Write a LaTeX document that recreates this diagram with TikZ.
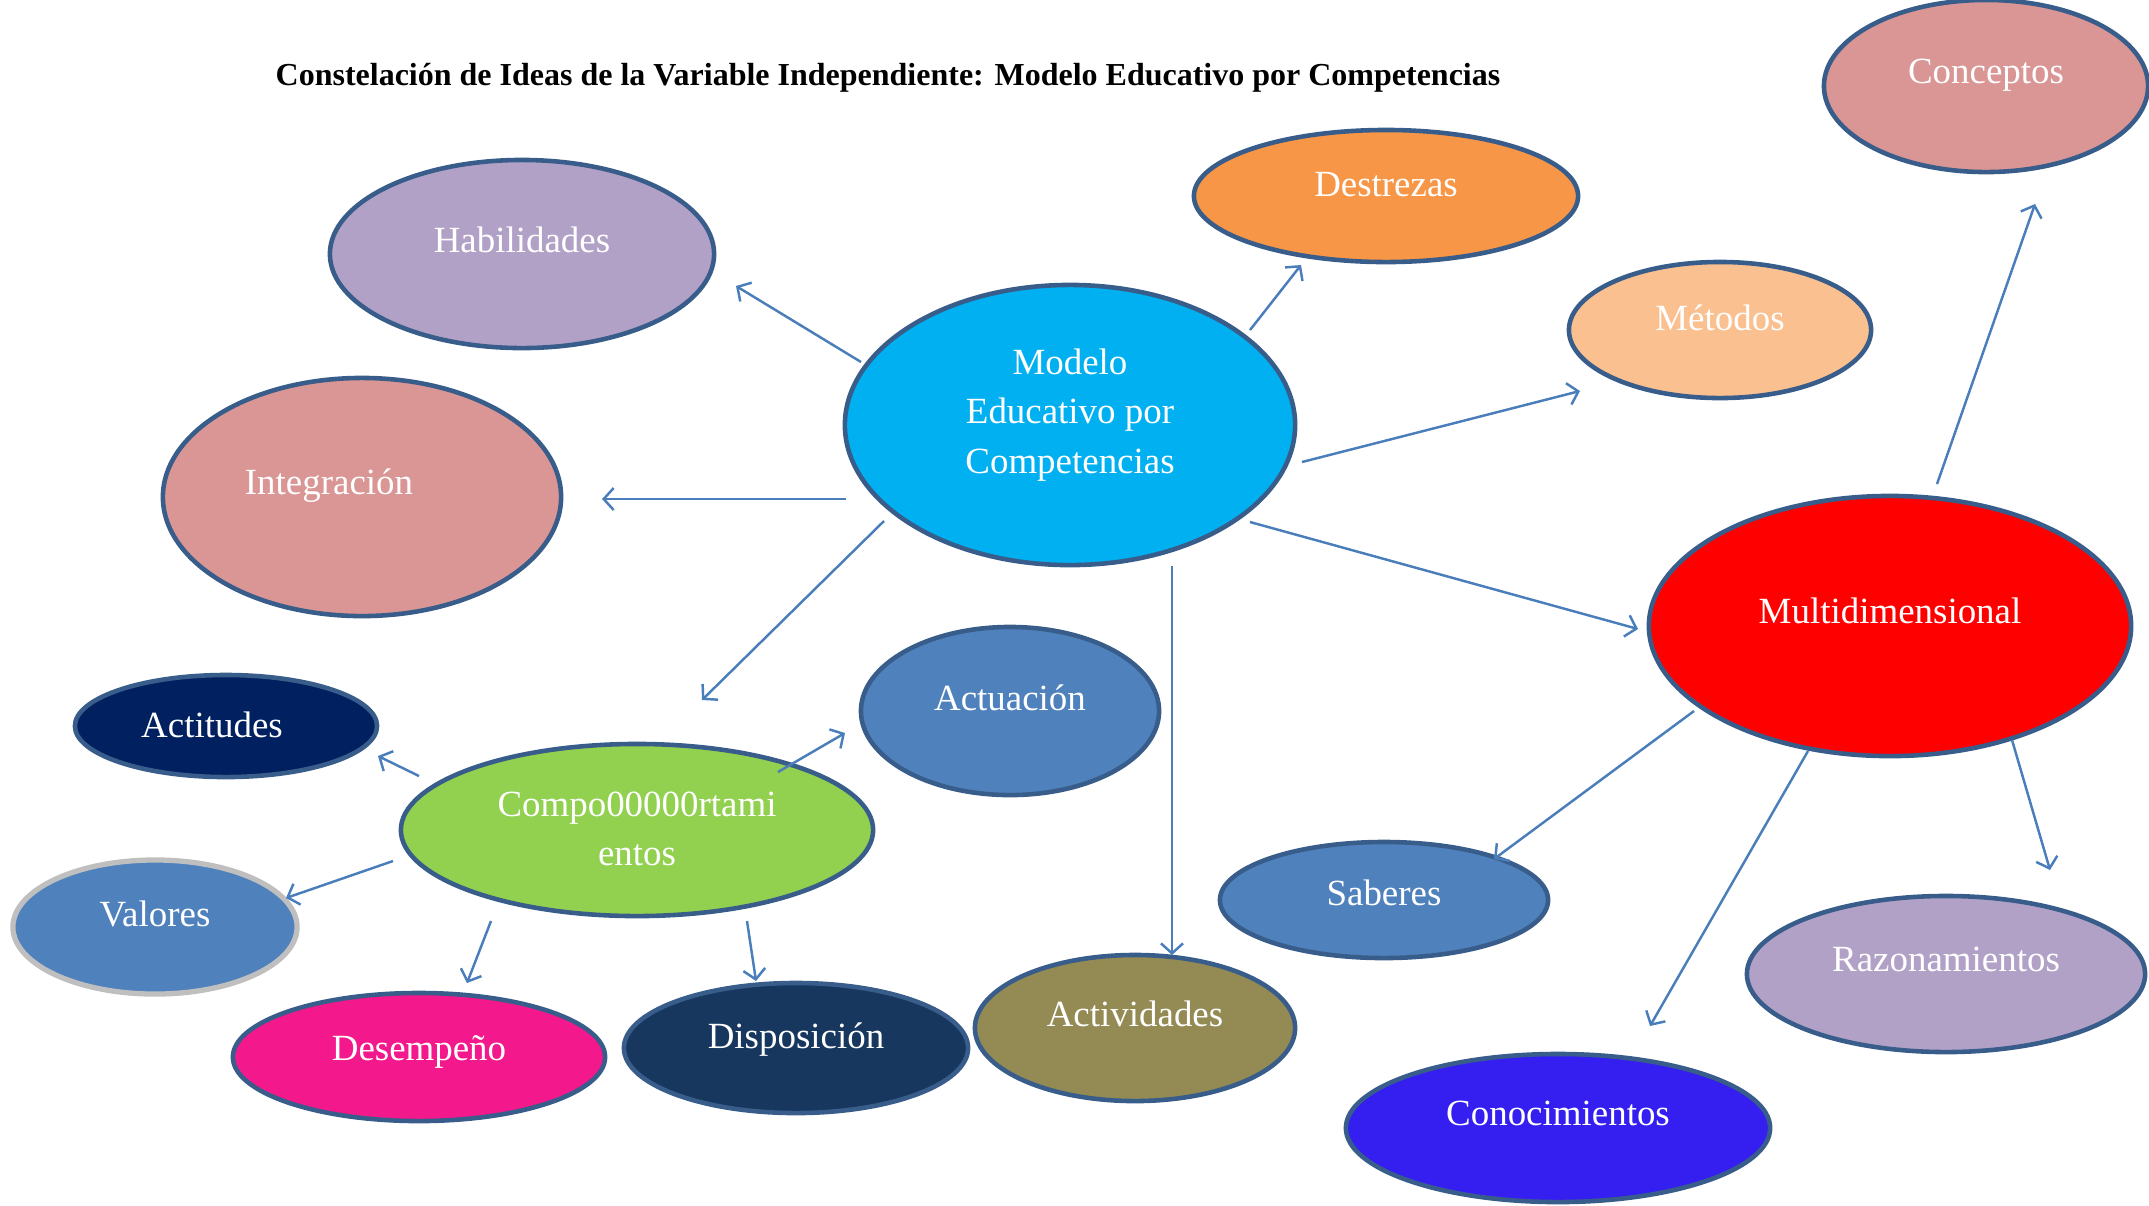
\documentclass[tikz,border=0pt]{standalone}
\usepackage{fontspec}
\setmainfont{Liberation Serif}
\usetikzlibrary{shapes.geometric,arrows.meta}
\definecolor{bordc}{RGB}{56,93,138}
\definecolor{arrc}{RGB}{74,126,187}
\definecolor{cConc}{RGB}{217,150,148}
\definecolor{cDest}{RGB}{247,150,70}
\definecolor{cHab}{RGB}{178,161,199}
\definecolor{cMet}{RGB}{250,192,144}
\definecolor{cMod}{RGB}{0,176,240}
\definecolor{cMul}{RGB}{255,0,0}
\definecolor{cAct}{RGB}{0,32,96}
\definecolor{cBlue}{RGB}{79,129,189}
\definecolor{cComp}{RGB}{146,208,80}
\definecolor{cGrey}{RGB}{191,191,191}
\definecolor{cDes}{RGB}{243,24,140}
\definecolor{cDisp}{RGB}{23,55,94}
\definecolor{cActiv}{RGB}{148,138,84}
\definecolor{cCono}{RGB}{52,31,240}
\tikzset{
  ell/.style={ellipse, draw=bordc, line width=1.3pt, inner sep=0pt},
  lbl/.style={text=white, font=\fontsize{10.5}{14}\selectfont, align=center, inner sep=0pt},
  arr/.style={draw=arrc, line width=0.7pt, -{Straight Barb[length=1mm,width=2.2mm,line width=0.7pt]}},
}
\begin{document}
\begin{tikzpicture}[x=0.01cm, y=-0.01cm]
\path[use as bounding box] (0,0) rectangle (2149,1205);
% title
\node[font=\fontsize{9.1}{10}\selectfont\bfseries, inner sep=0pt] (title) at (888,78) {Constelación de Ideas de la Variable Independiente: Modelo Educativo por Competencias};
% ellipses
\node[ell, fill=cConc, minimum width=3.24cm, minimum height=1.72cm] (conc) at (1986,86) {};
\node[lbl] (concT) at (1986,75) {Conceptos};
\node[ell, fill=cDest, minimum width=3.84cm, minimum height=1.32cm] (dest) at (1386,196) {};
\node[lbl] (destT) at (1386,185) {Destrezas};
\node[ell, fill=cHab, minimum width=3.84cm, minimum height=1.88cm] (hab) at (522,254) {};
\node[lbl] (habT) at (522,240) {Habilidades};
\node[ell, fill=cMet, minimum width=3.02cm, minimum height=1.36cm] (met) at (1720,330) {};
\node[lbl] (metT) at (1720,318) {Métodos};
\node[ell, fill=cMod, minimum width=4.50cm, minimum height=2.80cm] (mod) at (1070,425) {};
\node[lbl] (modT) at (1070,415) {Modelo\\Educativo por\\Competencias};
\node[ell, fill=cConc, minimum width=3.98cm, minimum height=2.38cm] (integ) at (362,497) {};
\node[lbl] (integT) at (329,486) {Integración};
\node[ell, fill=cMul, minimum width=4.82cm, minimum height=2.60cm] (mul) at (1890,626) {};
\node[lbl] (mulT) at (1890,611) {Multidimensional};
\node[ell, fill=cAct, minimum width=3.02cm, minimum height=1.02cm] (acti) at (226,726) {};
\node[lbl] (actiT) at (212,725) {Actitudes};
\node[ell, fill=cBlue, minimum width=2.98cm, minimum height=1.68cm] (actu) at (1010,711) {};
\node[lbl] (actuT) at (1010,698) {Actuación};
\node[ell, fill=cComp, minimum width=4.72cm, minimum height=1.72cm] (comp) at (637,830) {};
\node[lbl] (compT) at (637,829) {Compo00000rtami\\entos};
\node[ell, fill=cBlue, minimum width=3.28cm, minimum height=1.16cm] (sab) at (1384,900) {};
\node[lbl] (sabT) at (1384,893) {Saberes};
\node[ell, fill=cBlue, draw=cGrey, line width=1.5pt, minimum width=2.84cm, minimum height=1.34cm] (val) at (155,927) {};
\node[lbl] (valT) at (155,914) {Valores};
\node[ell, fill=cHab, minimum width=3.98cm, minimum height=1.56cm] (raz) at (1946,974) {};
\node[lbl] (razT) at (1946,959) {Razonamientos};
\node[ell, fill=cDes, minimum width=3.72cm, minimum height=1.28cm] (des) at (419,1057) {};
\node[lbl] (desT) at (419,1052) {Desempeño};
\node[ell, fill=cDisp, minimum width=3.44cm, minimum height=1.30cm] (disp) at (796,1048) {};
\node[lbl] (dispT) at (796,1040) {Disposición};
\node[ell, fill=cActiv, minimum width=3.20cm, minimum height=1.46cm] (activ) at (1135,1028) {};
\node[lbl] (activT) at (1135,1014) {Actividades};
\node[ell, fill=cCono, minimum width=4.24cm, minimum height=1.48cm] (cono) at (1558,1128) {};
\node[lbl] (conoT) at (1558,1113) {Conocimientos};
% arrow endpoints
\coordinate (a1s) at (861,362);  \coordinate (a1e) at (736,286);
\coordinate (a2s) at (1250,330); \coordinate (a2e) at (1301,265);
\coordinate (a3s) at (1302,462); \coordinate (a3e) at (1580,391);
\coordinate (a4s) at (846,499);  \coordinate (a4e) at (602,499);
\coordinate (a5s) at (884,521);  \coordinate (a5e) at (702,700);
\coordinate (a6s) at (1172,566); \coordinate (a6e) at (1172,955);
\coordinate (a7s) at (1250,522); \coordinate (a7e) at (1638,629);
\coordinate (a8s) at (1937,484); \coordinate (a8e) at (2035,204);
\coordinate (a9s) at (1694,711); \coordinate (a9e) at (1494,859);
\coordinate (a10s) at (1808,751); \coordinate (a10e) at (1650,1026);
\coordinate (a11s) at (2012,740); \coordinate (a11e) at (2050,870);
\coordinate (a12s) at (778,772); \coordinate (a12e) at (845,733);
\coordinate (a13s) at (419,776); \coordinate (a13e) at (378,756);
\coordinate (a14s) at (393,861); \coordinate (a14e) at (286,898);
\coordinate (a15s) at (491,921); \coordinate (a15e) at (467,983);
\coordinate (a16s) at (747,921); \coordinate (a16e) at (756,981);
\foreach \i in {1,...,16} {\draw[arr] (a\i s) -- (a\i e);}
\end{tikzpicture}
\end{document}
